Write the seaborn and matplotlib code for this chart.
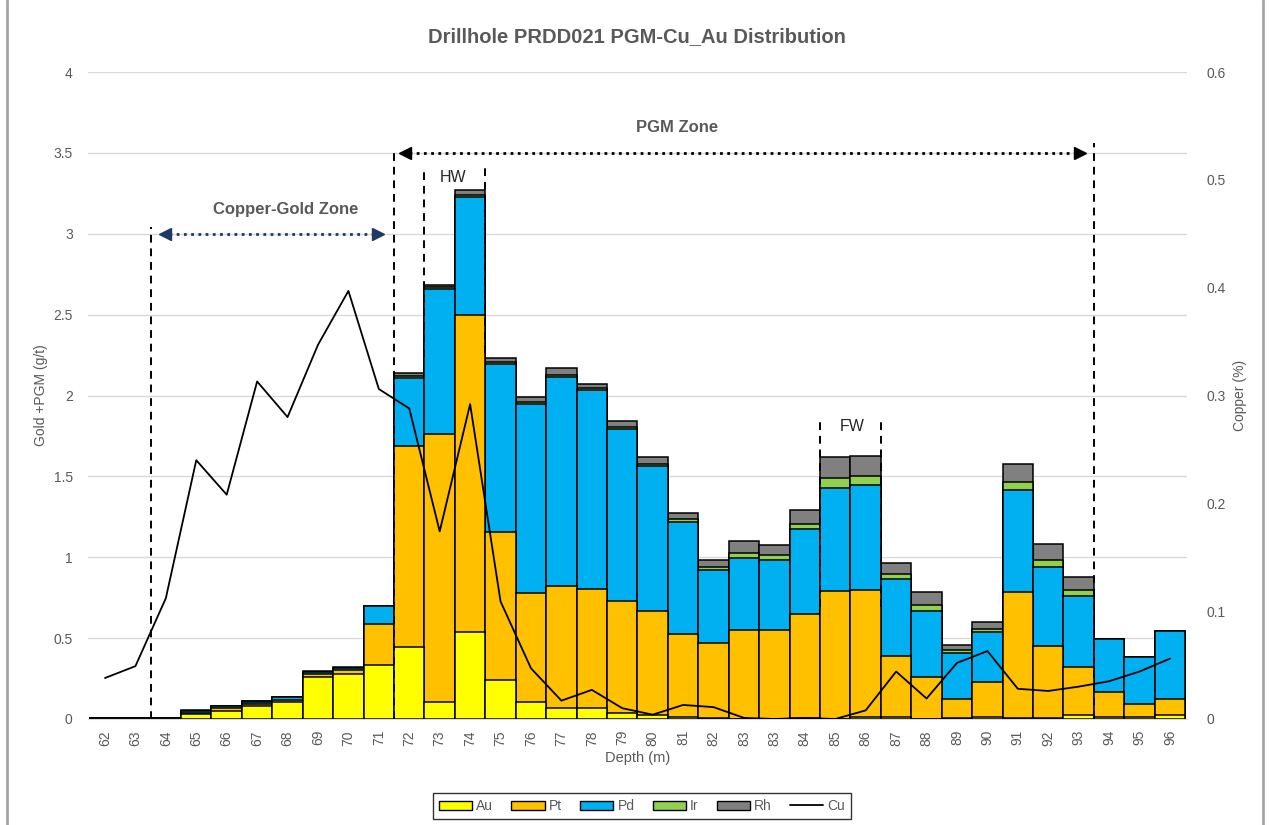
import pandas as pd
import matplotlib.pyplot as plt
import seaborn as sns
from matplotlib.patches import Patch
from matplotlib.lines import Line2D
from matplotlib.ticker import FixedLocator

# Depth labels (83 appears twice in the source sheet)
depths = ["62", "63", "64", "65", "66", "67", "68", "69", "70", "71",
          "72", "73", "74", "75", "76", "77", "78", "79", "80", "81",
          "82", "83", "83", "84", "85", "86", "87", "88", "89", "90",
          "91", "92", "93", "94", "95", "96"]

# g/t
au = [0.005, 0.005, 0.002, 0.03, 0.047, 0.082, 0.107, 0.258, 0.278, 0.334,
      0.445, 0.105, 0.54, 0.24, 0.107, 0.067, 0.067, 0.037, 0.025, 0.014,
      0.005, 0.003, 0.003, 0.007, 0.003, 0.014, 0.01, 0.003, 0.005, 0.01,
      0.005, 0.005, 0.022, 0.01, 0.015, 0.027]
pt = [0.002, 0.002, 0.001, 0.01, 0.019, 0.01, 0.01, 0.018, 0.024, 0.251,
      1.245, 1.66, 1.955, 0.915, 0.67, 0.753, 0.737, 0.69, 0.643, 0.513,
      0.465, 0.547, 0.547, 0.644, 0.786, 0.781, 0.381, 0.257, 0.121, 0.219,
      0.778, 0.448, 0.299, 0.157, 0.075, 0.094]
pd_ = [0.002, 0.002, 0.001, 0.008, 0.012, 0.015, 0.018, 0.012, 0.012, 0.114,
       0.42, 0.895, 0.735, 1.04, 1.173, 1.296, 1.233, 1.063, 0.894, 0.689,
       0.449, 0.448, 0.433, 0.526, 0.639, 0.65, 0.473, 0.41, 0.282, 0.307,
       0.633, 0.487, 0.439, 0.327, 0.295, 0.421]
ir = [0.0, 0.0, 0.0, 0.003, 0.002, 0.002, 0.001, 0.003, 0.002, 0.0,
      0.01, 0.01, 0.01, 0.01, 0.01, 0.012, 0.01, 0.015, 0.015, 0.02,
      0.022, 0.03, 0.028, 0.03, 0.064, 0.059, 0.035, 0.037, 0.019, 0.022,
      0.049, 0.045, 0.035, 0.0, 0.0, 0.0]
rh = [0.0, 0.0, 0.0, 0.005, 0.002, 0.002, 0.002, 0.006, 0.004, 0.0,
      0.02, 0.015, 0.03, 0.025, 0.03, 0.04, 0.026, 0.035, 0.04, 0.038,
      0.042, 0.07, 0.065, 0.085, 0.128, 0.12, 0.065, 0.078, 0.033, 0.04,
      0.11, 0.097, 0.083, 0.0, 0.0, 0.0]
# %
cu = [0.038, 0.049, 0.112, 0.24, 0.208, 0.313, 0.28, 0.347, 0.397, 0.306,
      0.288, 0.174, 0.292, 0.109, 0.047, 0.017, 0.027, 0.01, 0.004, 0.013,
      0.011, 0.001, 0.0, 0.001, 0.0, 0.008, 0.044, 0.019, 0.052, 0.063,
      0.028, 0.026, 0.03, 0.035, 0.044, 0.056]

elements = ["Au", "Pt", "Pd", "Ir", "Rh"]
colors = {"Au": "#FFFF00", "Pt": "#FFC000", "Pd": "#00B0F0",
          "Ir": "#92D050", "Rh": "#808080"}

df = pd.DataFrame({"pos": range(len(depths)), "Au": au, "Pt": pt,
                   "Pd": pd_, "Ir": ir, "Rh": rh, "Cu": cu})
cum = df[elements].cumsum(axis=1)

sns.set_style("white")
plt.rcParams["font.family"] = ["Liberation Sans", "DejaVu Sans"]
GREY = "#595959"

fig = plt.figure(figsize=(12.69, 8.25), dpi=100)
ax = fig.add_axes([0.0693, 0.1285, 0.8661, 0.7842])

# stacked bars: draw cumulative totals from top down
for el in reversed(elements):
    sns.barplot(x=df["pos"], y=cum[el], color=colors[el], saturation=1,
                width=1, edgecolor="black", linewidth=1.1, errorbar=None,
                ax=ax, zorder=2)

ax.set_xlim(-0.56, 35.56)
ax.set_ylim(0, 4)
ax.set_yticks([0, 0.5, 1, 1.5, 2, 2.5, 3, 3.5, 4])
ax.set_yticklabels(["0", "0.5", "1", "1.5", "2", "2.5", "3", "3.5", "4"])
ax.set_xticks(range(len(depths)))
ax.set_xticklabels(depths, rotation=90)
ax.xaxis.set_minor_locator(FixedLocator([i - 0.5 for i in range(len(depths) + 1)]))
ax.tick_params(axis="x", which="major", length=0, pad=8, labelsize=10, labelcolor=GREY)
ax.tick_params(axis="x", which="minor", length=5, color="#BFBFBF", width=1)
ax.tick_params(axis="y", length=0, pad=11, labelsize=10, labelcolor=GREY)
ax.grid(axis="y", color="#D9D9D9", lw=1)
ax.set_axisbelow(True)
for s in ["top", "left", "right"]:
    ax.spines[s].set_visible(False)
ax.spines["bottom"].set_color("#D9D9D9")
ax.set_xlabel("Depth (m)", fontsize=10.5, color=GREY, labelpad=4)
ax.set_ylabel("Gold +PGM (g/t)", fontsize=10, color=GREY, labelpad=4)

# copper on the right axis
ax2 = ax.twinx()
sns.lineplot(x=df["pos"], y=df["Cu"], color="black", lw=1.3, ax=ax2)
ax2.set_ylim(0, 0.6)
ax2.set_yticks([0, 0.1, 0.2, 0.3, 0.4, 0.5, 0.6])
ax2.set_yticklabels(["0", "0.1", "0.2", "0.3", "0.4", "0.5", "0.6"])
ax2.tick_params(axis="y", length=0, pad=14, labelsize=10, labelcolor=GREY)
for s in ax2.spines.values():
    s.set_visible(False)
ax2.set_ylabel("Copper (%)", fontsize=10, color=GREY, labelpad=5)

# zone markers
dash = dict(color="black", lw=1.4, ls=(0, (4, 3)), zorder=5)
ax.plot([1.5, 1.5], [0, 3.04], **dash)
ax.plot([9.5, 9.5], [0, 3.53], **dash)
ax.plot([32.5, 32.5], [0, 3.56], **dash)
ax.plot([10.5, 10.5], [2.24, 3.41], **dash)
ax.plot([12.5, 12.5], [2.26, 3.41], **dash)
ax.plot([23.5, 23.5], [0.69, 1.85], **dash)
ax.plot([25.5, 25.5], [0.69, 1.85], **dash)

navy = "#203864"
ax.plot([2.1, 8.85], [3.0, 3.0], color=navy, lw=2, ls=(0, (1, 1.6)), zorder=5)
ax.plot([1.97], [3.0], marker="<", color=navy, ms=8, zorder=5)
ax.plot([8.97], [3.0], marker=">", color=navy, ms=8, zorder=5)
ax.plot([10.0, 31.9], [3.5, 3.5], color="black", lw=2, ls=(0, (1, 1.6)), zorder=5)
ax.plot([9.86], [3.5], marker="<", color="black", ms=8, zorder=5)
ax.plot([32.04], [3.5], marker=">", color="black", ms=8, zorder=5)

ax.text(5.95, 3.15, "Copper-Gold Zone", ha="center", va="center",
        fontsize=12, fontweight="bold", color=GREY)
ax.text(18.8, 3.66, "PGM Zone", ha="center", va="center",
        fontsize=12, fontweight="bold", color=GREY)
ax.text(11.45, 3.345, "HW", ha="center", va="center", fontsize=11.5, color="#262626")
ax.text(24.55, 1.81, "FW", ha="center", va="center", fontsize=11.5, color="#262626")

fig.text(0.502, 0.956, "Drillhole PRDD021 PGM-Cu_Au Distribution", ha="center",
         va="center", fontsize=14.5, fontweight="bold", color=GREY)

handles = [Patch(facecolor=colors[e], edgecolor="black", lw=1) for e in elements]
handles.append(Line2D([], [], color="black", lw=1.3))
leg = fig.legend(handles, elements + ["Cu"], loc="center",
                 bbox_to_anchor=(0.506, 0.023), ncol=6, frameon=True,
                 fancybox=False, fontsize=10, handlelength=2.4,
                 handleheight=0.6, columnspacing=1.3, handletextpad=0.3,
                 borderpad=0.4)
leg.get_frame().set_edgecolor("black")
leg.get_frame().set_linewidth(1)
for t in leg.get_texts():
    t.set_color(GREY)

# chart border
fig.add_artist(Line2D([0.0055, 0.0055], [0, 1], color="#A6A6A6", lw=2))
fig.add_artist(Line2D([0.9955, 0.9955], [0, 1], color="#A6A6A6", lw=2))

fig.savefig("out.png", dpi=100)
